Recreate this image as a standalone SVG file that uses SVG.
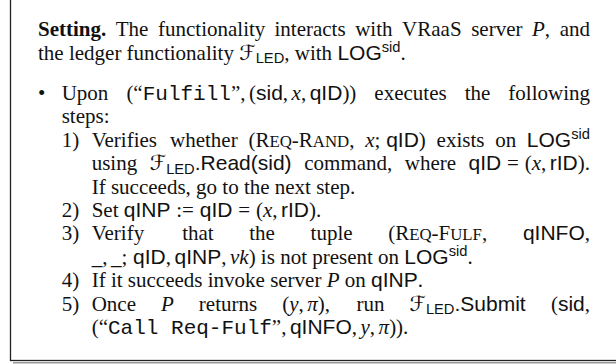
<svg xmlns="http://www.w3.org/2000/svg" width="616" height="364" viewBox="0 0 616 364">
<style>
text{font-family:"Liberation Serif","Times New Roman",serif;font-size:21px;fill:#111}
.b{font-weight:bold}
.i{font-style:italic}
.s{font-family:"Liberation Sans",Arial,sans-serif}
.m{font-family:"Liberation Mono","Courier New",monospace}
.c{font-family:"DejaVu Sans",sans-serif}
.sm{font-size:14.7px}
.sc{font-size:16.8px}
.frame{fill:#fff;stroke:#222;stroke-width:1.3}
.shadow{fill:none;stroke:#999;stroke-width:1.5}
</style>
<rect width="616" height="364" fill="#fff"/>
<g id="box">
<line class="shadow" x1="13" y1="362.8" x2="616" y2="362.8"/>
<rect class="frame" x="10.5" y="-20" width="640" height="380.5"/>
</g>
<g id="text">
<text x="38" y="36" class="b">Setting.</text>
<text x="115.81" y="36">The</text>
<text x="158.03" y="36">functionality</text>
<text x="274.5" y="36">interacts</text>
<text x="355.21" y="36">with</text>
<text x="402.11" y="36">VRaaS</text>
<text x="471.16" y="36">server</text>
<text x="532.02" y="36"><tspan class="i">P</tspan>,</text>
<text x="590" y="36" text-anchor="end">and</text>

<text x="38" y="59.5">the ledger functionality <tspan class="c">ℱ</tspan><tspan class="s sm" dy="3.5">LED</tspan><tspan dy="-3.5">, with </tspan><tspan class="s">LOG</tspan><tspan class="s sm" dy="-8">sid</tspan><tspan dy="8">.</tspan></text>

<text x="38" y="100">•</text>
<text x="61.7" y="100">Upon</text>
<text x="126.38" y="100">(“<tspan class="m">Fulfill</tspan>”,<tspan dx="3.5">(</tspan><tspan class="s">sid</tspan>,<tspan class="i" dx="3.5">x</tspan>,<tspan class="s" dx="3.5">qID</tspan>))</text>
<text x="374.33" y="100">executes</text>
<text x="464.65" y="100">the</text>
<text x="590" y="100" text-anchor="end">following</text>

<text x="61.7" y="123.4">steps:</text>

<text x="61.7" y="146.8">1)</text>
<text x="91.7" y="146.8">Verifies</text>
<text x="170.06" y="146.8">whether</text>
<text x="248.42" y="146.8">(R<tspan class="sc">EQ</tspan>-R<tspan class="sc">AND</tspan>,</text>
<text x="365.21" y="146.8"><tspan class="i">x</tspan>;<tspan class="s" dx="5.8">qID</tspan>)</text>
<text x="436.6" y="146.8">exists</text>
<text x="495.16" y="146.8">on</text>
<text x="590" y="146.8" text-anchor="end"><tspan class="s">LOG</tspan><tspan class="s sm" dy="-8">sid</tspan></text>

<text x="91.7" y="170.2">using</text>
<text x="149.63" y="170.2"><tspan class="c">ℱ</tspan><tspan class="s sm" dy="3.5">LED</tspan><tspan class="s" dy="-3.5">.Read(sid)</tspan></text>
<text x="304.28" y="170.2">command,</text>
<text x="404.77" y="170.2">where</text>
<text x="590" y="170.2" text-anchor="end"><tspan class="s">qID</tspan><tspan dx="5.8">=</tspan><tspan dx="5.8">(</tspan><tspan class="i">x</tspan>,<tspan class="s" dx="3.5">rID</tspan>).</text>

<text x="91.7" y="193.6">If succeeds, go to the next step.</text>

<text x="61.7" y="217">2)</text>
<text x="91.7" y="217">Set <tspan class="s">qINP</tspan><tspan dx="5.8">:=</tspan><tspan class="s" dx="5.8">qID</tspan><tspan dx="5.8">=</tspan><tspan dx="5.8">(</tspan><tspan class="i">x</tspan>,<tspan class="s" dx="3.5">rID</tspan>).</text>

<text x="61.7" y="240.4">3)</text>
<text x="91.7" y="240.4">Verify</text>
<text x="182.14" y="240.4">that</text>
<text x="249.27" y="240.4">the</text>
<text x="310.56" y="240.4">tuple</text>
<text x="388.19" y="240.4">(R<tspan class="sc">EQ</tspan>-F<tspan class="sc">ULF</tspan>,</text>
<text x="590" y="240.4" text-anchor="end"><tspan class="s">qINFO</tspan>,</text>

<text x="91.7" y="263.8">_,<tspan dx="3.5">_</tspan>;<tspan class="s" dx="5.8">qID</tspan>,<tspan class="s" dx="3.5">qINP</tspan>,<tspan class="i" dx="3.5">vk</tspan>) is not present on <tspan class="s">LOG</tspan><tspan class="s sm" dy="-8">sid</tspan><tspan dy="8">.</tspan></text>

<text x="61.7" y="287.2">4)</text>
<text x="91.7" y="287.2">If it succeeds invoke server <tspan class="i">P</tspan> on <tspan class="s">qINP</tspan>.</text>

<text x="61.7" y="310.6">5)</text>
<text x="91.7" y="310.6">Once</text>
<text x="161" y="310.6" class="i">P</text>
<text x="198.82" y="310.6">returns</text>
<text x="282.13" y="310.6">(<tspan class="i">y</tspan>,<tspan class="i" dx="3.5">π</tspan>),</text>
<text x="356.41" y="310.6">run</text>
<text x="409.39" y="310.6"><tspan class="c">ℱ</tspan><tspan class="s sm" dy="3.5">LED</tspan><tspan class="s" dy="-3.5">.Submit</tspan></text>
<text x="590" y="310.6" text-anchor="end">(<tspan class="s">sid</tspan>,</text>

<text x="91.7" y="334">(“<tspan class="m">Call Req-Fulf</tspan>”,<tspan class="s" dx="3.5">qINFO</tspan>,<tspan class="i" dx="3.5">y</tspan>,<tspan class="i" dx="3.5">π</tspan>)).</text>
</g>
</svg>
